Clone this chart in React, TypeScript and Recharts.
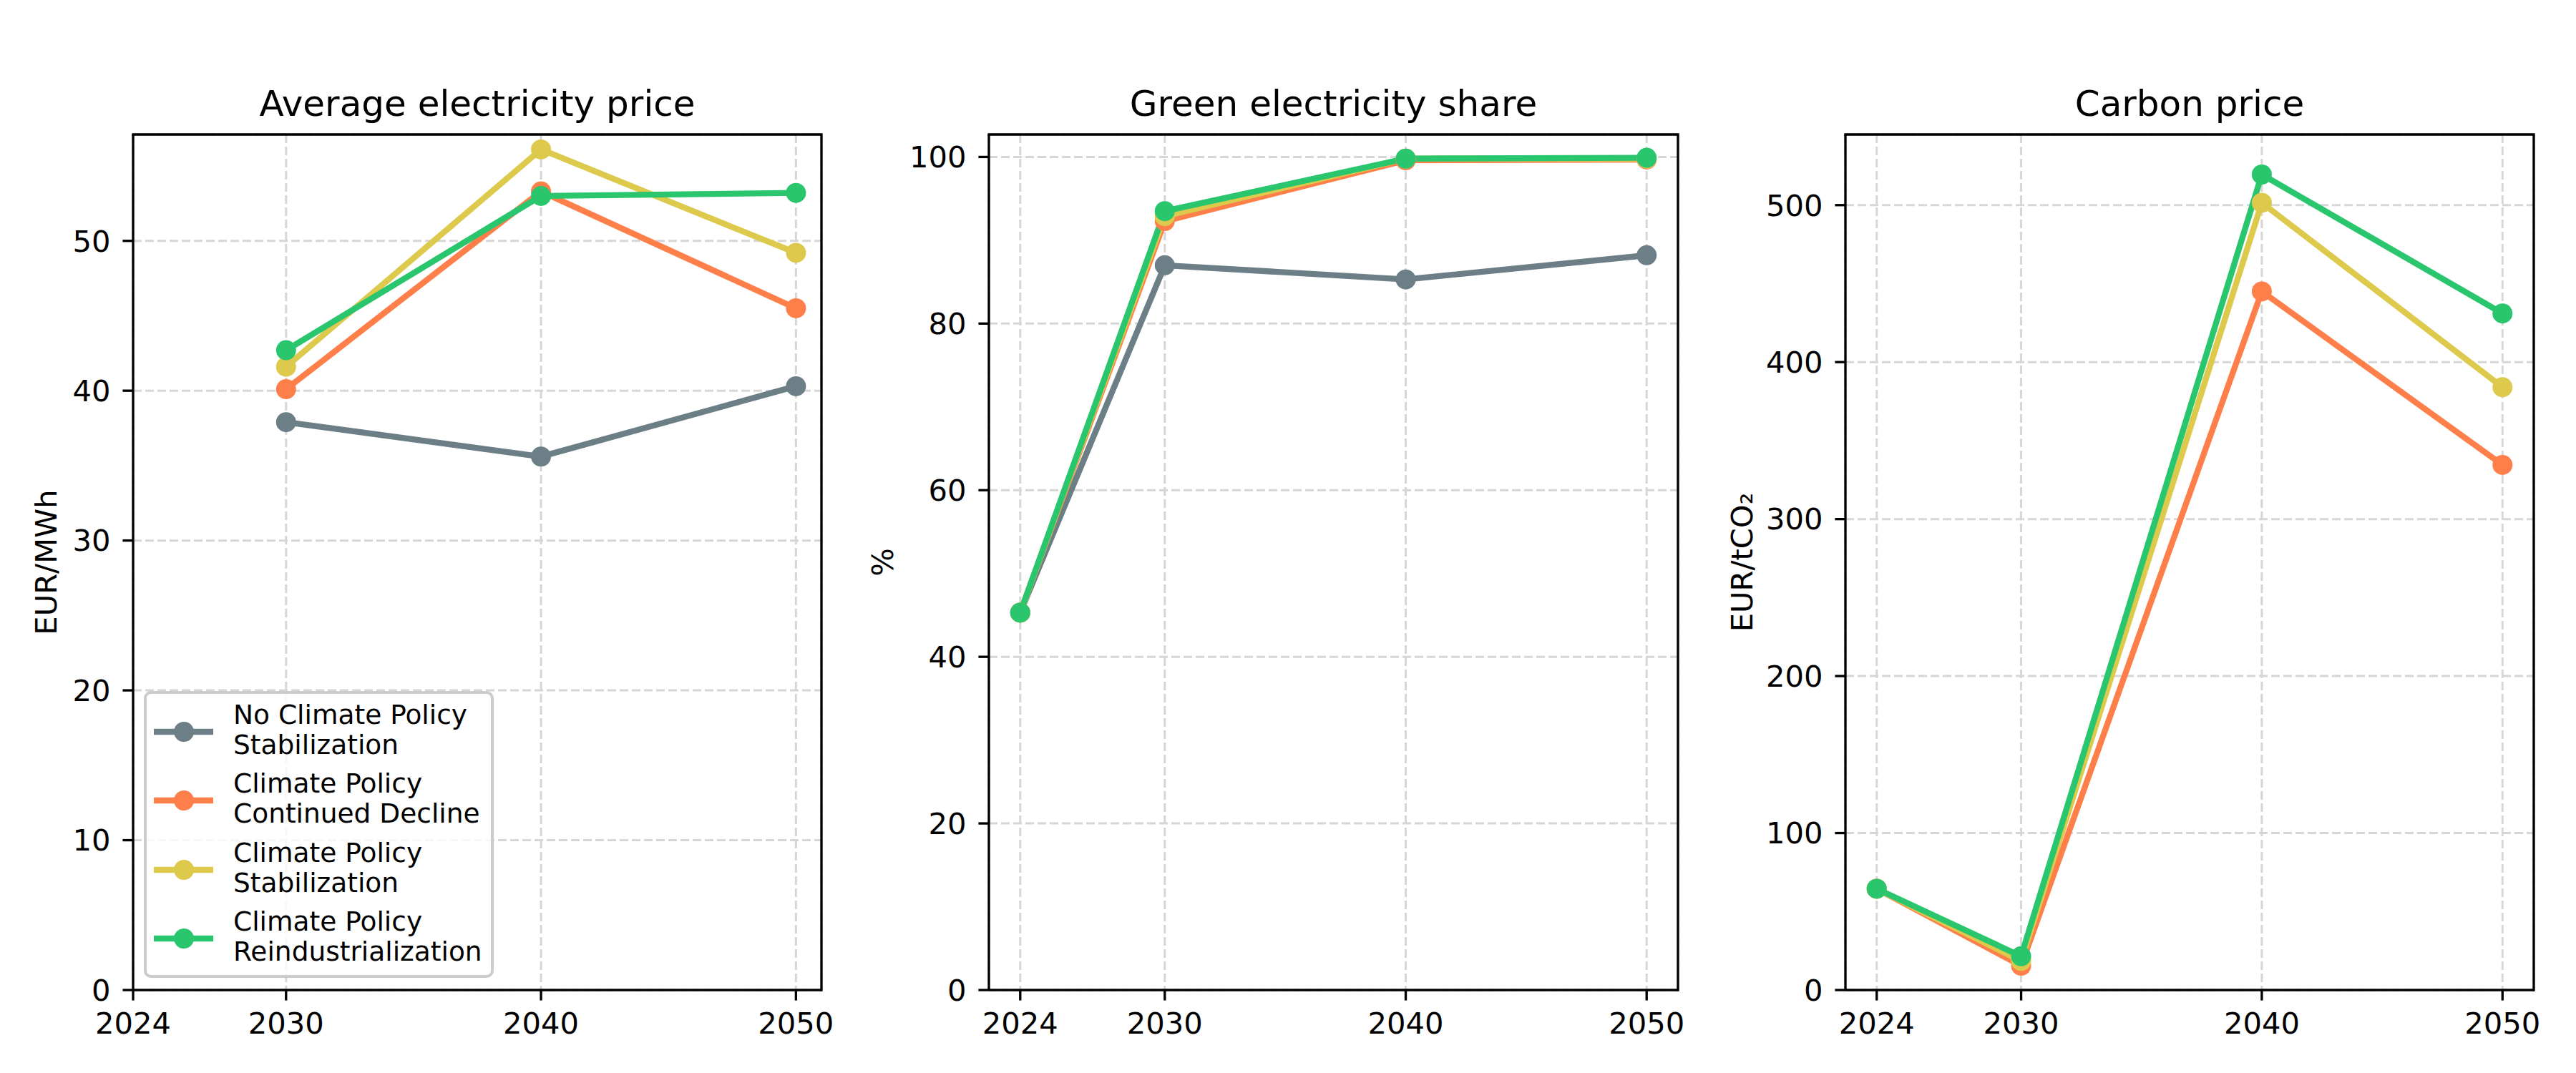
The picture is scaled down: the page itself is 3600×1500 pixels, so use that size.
import { LineChart, Line, XAxis, YAxis, CartesianGrid } from "recharts";

const years = [2024, 2030, 2040, 2050];

const scenarioNames = [
  ["No Climate Policy", "Stabilization"],
  ["Climate Policy", "Continued Decline"],
  ["Climate Policy", "Stabilization"],
  ["Climate Policy", "Reindustrialization"],
];
const scenarioColors = ["#6c7f86", "#ff7f4a", "#ddc94c", "#29c66e"];

// Average electricity price, EUR/MWh
const priceNoPolicy = [null, 37.9, 35.6, 40.3];
const priceDecline = [null, 40.1, 53.3, 45.5];
const priceStabilization = [null, 41.6, 56.1, 49.2];
const priceReindustrialization = [null, 42.7, 53.0, 53.2];

// Green electricity share, %
const shareNoPolicy = [45.3, 87.0, 85.3, 88.2];
const shareDecline = [45.3, 92.3, 99.6, 99.7];
const shareStabilization = [45.3, 92.9, 99.8, 99.8];
const shareReindustrialization = [45.3, 93.5, 99.8, 99.9];

// Carbon price, EUR/tCO2
const carbonNoPolicy = [null, null, null, null];
const carbonDecline = [64.5, 15.5, 445, 334.5];
const carbonStabilization = [64.5, 18.5, 501.5, 384];
const carbonReindustrialization = [64.5, 21.5, 519.5, 431];

const priceTicks = [0, 10, 20, 30, 40, 50];
const shareTicks = [0, 20, 40, 60, 80, 100];
const carbonTicks = [0, 100, 200, 300, 400, 500];
const yearTicks = [2024, 2030, 2040, 2050];

const FONT = "DejaVu Sans, sans-serif";
const PT = 300 / 72;

const panels = [
  {
    title: "Average electricity price",
    ylabel: "EUR/MWh",
    series: [priceNoPolicy, priceDecline, priceStabilization, priceReindustrialization],
    yDomain: [0, 57.1],
    yTicks: priceTicks,
    xDomain: [2024, 2051],
    left: 186,
    right: 1148,
    labelX: 64,
  },
  {
    title: "Green electricity share",
    ylabel: "%",
    series: [shareNoPolicy, shareDecline, shareStabilization, shareReindustrialization],
    yDomain: [0, 102.7],
    yTicks: shareTicks,
    xDomain: [2022.7, 2051.3],
    left: 1382,
    right: 2345,
    labelX: 1233,
  },
  {
    title: "Carbon price",
    ylabel: "EUR/tCO₂",
    series: [carbonNoPolicy, carbonDecline, carbonStabilization, carbonReindustrialization],
    yDomain: [0, 545],
    yTicks: carbonTicks,
    xDomain: [2022.7, 2051.3],
    left: 2579,
    right: 3541,
    labelX: 2434,
  },
];

const PLOT_TOP = 188;
const PLOT_BOTTOM = 1384;
const H = 1500;
const PAD_L = 300;
const PAD_R = 60;

const tickStyle = { fontSize: 10 * PT, fill: "#000", fontFamily: FONT };
const spine = { stroke: "#000", strokeWidth: 0.8 * PT };

function Panel({ p }) {
  const rows = years.map((year, i) => {
    const row = { year };
    p.series.forEach((s, k) => {
      row["s" + k] = s[i];
    });
    return row;
  });
  const width = p.right - p.left + PAD_L + PAD_R;
  return (
    <div style={{ position: "absolute", left: p.left - PAD_L, top: 0, width, height: H }}>
      <LineChart
        width={width}
        height={H}
        data={rows}
        margin={{ top: PLOT_TOP, right: PAD_R, bottom: H - PLOT_BOTTOM - 80, left: PAD_L - 100 }}
      >
        <CartesianGrid stroke="#d6d6d6" strokeDasharray="12 5" strokeWidth={3} />
        <XAxis
          dataKey="year"
          type="number"
          domain={p.xDomain}
          ticks={yearTicks}
          allowDataOverflow
          height={80}
          tick={tickStyle}
          tickSize={3.5 * PT}
          tickMargin={17}
          axisLine={spine}
          tickLine={spine}
        />
        <YAxis
          type="number"
          domain={p.yDomain}
          ticks={p.yTicks}
          allowDataOverflow
          width={100}
          tick={tickStyle}
          tickSize={3.5 * PT}
          tickMargin={17}
          axisLine={spine}
          tickLine={spine}
        />
        {p.series.map((s, k) => (
          <Line
            key={k}
            dataKey={"s" + k}
            type="linear"
            stroke={scenarioColors[k]}
            strokeWidth={2 * PT}
            strokeLinejoin="round"
            dot={{ r: 14, fill: scenarioColors[k], stroke: "none" }}
            activeDot={false}
            isAnimationActive={false}
          />
        ))}
      </LineChart>
    </div>
  );
}

function Overlay() {
  const rowY = [1023, 1119, 1216, 1312];
  return (
    <svg
      width={3600}
      height={H}
      style={{ position: "absolute", left: 0, top: 0, pointerEvents: "none" }}
      fontFamily={FONT}
    >
      {panels.map((p, i) => (
        <g key={i}>
          {/* top and right spines */}
          <polyline
            points={`${p.left},${PLOT_TOP} ${p.right},${PLOT_TOP} ${p.right},${PLOT_BOTTOM}`}
            fill="none"
            stroke="#000"
            strokeWidth={0.8 * PT}
            strokeLinecap="square"
          />
          <text x={(p.left + p.right) / 2} y={162} textAnchor="middle" fontSize={12 * PT} fill="#000">
            {p.title}
          </text>
          <text
            x={p.labelX}
            y={(PLOT_TOP + PLOT_BOTTOM) / 2}
            textAnchor="middle"
            dominantBaseline="central"
            fontSize={10 * PT}
            fill="#000"
            transform={`rotate(-90 ${p.labelX} ${(PLOT_TOP + PLOT_BOTTOM) / 2})`}
          >
            {p.ylabel}
          </text>
        </g>
      ))}
      <rect
        x={203}
        y={968}
        width={485}
        height={397}
        rx={8}
        fill="#fff"
        fillOpacity={0.8}
        stroke="#cccccc"
        strokeWidth={4}
      />
      {scenarioNames.map((name, k) => (
        <g key={k}>
          <line x1={215} x2={298} y1={rowY[k]} y2={rowY[k]} stroke={scenarioColors[k]} strokeWidth={2 * PT} />
          <circle cx={257} cy={rowY[k]} r={14} fill={scenarioColors[k]} />
          <text x={326} y={rowY[k] - 11} fontSize={9 * PT} fill="#000">
            {name[0]}
          </text>
          <text x={326} y={rowY[k] + 31} fontSize={9 * PT} fill="#000">
            {name[1]}
          </text>
        </g>
      ))}
    </svg>
  );
}

export default function App() {
  return (
    <div
      style={{
        position: "absolute",
        left: 0,
        top: 0,
        width: 3600,
        height: H,
        background: "#fff",
        overflow: "hidden",
      }}
    >
      {panels.map((p, i) => (
        <Panel key={i} p={p} />
      ))}
      <Overlay />
    </div>
  );
}
